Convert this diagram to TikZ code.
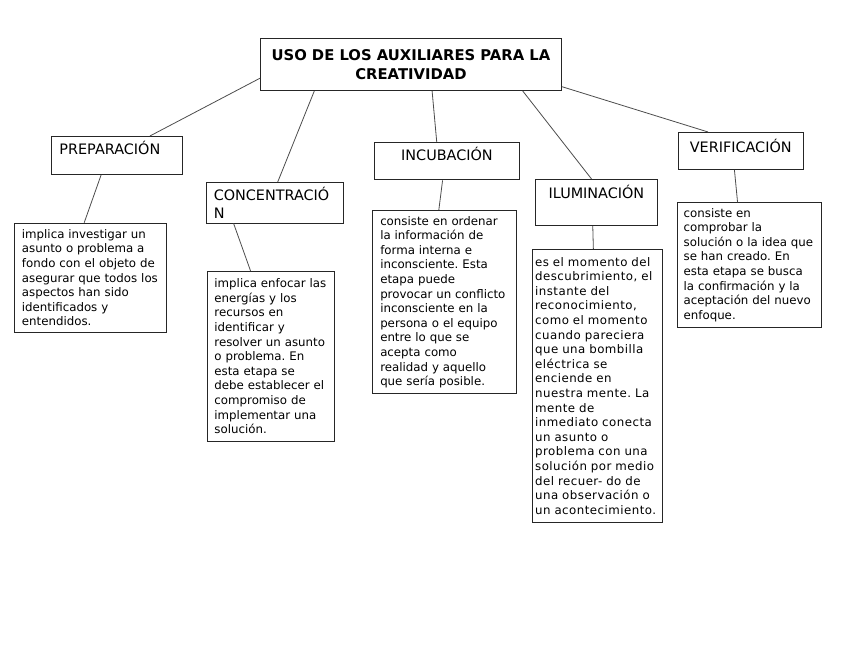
\documentclass[tikz,border=0pt]{standalone}
\usepackage{fontspec}
\setmainfont{DejaVu Sans}
\usetikzlibrary{calc}
\frenchspacing

\begin{document}
\begin{tikzpicture}[
  x=1pt,
  y=-1pt,
  mainbox/.style={
    draw=black!85,
    line width=0.9pt,
    anchor=north west,
    align=center,
    inner sep=0pt,
    minimum width=301pt,
    minimum height=52pt,
    font=\fontsize{14.8}{18.4}\selectfont\bfseries
  },
  stagebox/.style={
    draw=black!85,
    line width=0.9pt,
    anchor=north west,
    inner sep=0pt,
    font=\fontsize{14.4}{18.6}\selectfont
  },
  descbox/.style={
    draw=black!85,
    line width=0.9pt,
    anchor=north west,
    align=left,
    inner ysep=0pt,
    inner xsep=7.5pt,
    font=\fontsize{11.8}{14.6}\selectfont
  },
  link/.style={
    draw=black!70,
    line width=0.8pt
  }
]

\useasboundingbox (0,0) rectangle (848,655);

\node[mainbox] (uso) at (260,38)
  {USO DE LOS AUXILIARES PARA LA\\CREATIVIDAD};

% --- stages ---
\node[stagebox,align=left,text width=115pt,inner xsep=8pt,
  text height=18pt,text depth=20pt] (prep) at (51,136) {PREPARACIÓN};
\node[stagebox,align=left,text width=122.4pt,inner xsep=7.3pt,
  minimum height=40.5pt] (conc) at (206,182) {CONCENTRACIÓ\\N};
\node[stagebox,minimum width=145pt,text height=18pt,text depth=19.5pt]
  (incub) at (374,142) {INCUBACIÓN};
\node[stagebox,minimum width=122pt,text height=18.7pt,text depth=27.5pt]
  (ilum) at (535,179) {ILUMINACIÓN};
\node[stagebox,minimum width=124.5pt,text height=20pt,text depth=17pt]
  (verif) at (678,132) {VERIFICACIÓN};

% --- descriptions ---
\node[descbox,text width=136.7pt,minimum height=109pt] (prepdesc) at (14,222.7)
  {implica investigar un\\asunto o problema a\\fondo con el objeto de\\
   asegurar que todos los\\aspectos han sido\\identificados y\\entendidos.};
\node[descbox,inner xsep=7pt,text width=113.3pt,minimum height=169.7pt]
  (concdesc) at (207,271)
  {implica enfocar las\\energías y los\\recursos en\\identificar y\\
   resolver un asunto\\o problema. En\\esta etapa se\\debe establecer el\\
   compromiso de\\implementar una\\solución.};
\node[descbox,text width=128.7pt,minimum height=183.3pt] (incubdesc) at (372.3,210)
  {consiste en ordenar\\la información de\\forma interna e\\inconsciente. Esta\\
   etapa puede\\provocar un conflicto\\inconsciente en la\\persona o el equipo\\
   entre lo que se\\acepta como\\realidad y aquello\\que sería posible.};
\node[descbox,inner xsep=3pt,text width=124.3pt,minimum height=272.7pt,
  font=\fontsize{11.8}{14.6}\selectfont\addfontfeatures{LetterSpace=4}]
  (ilumdesc) at (531.7,249)
  {es el momento del\\descubrimiento, el\\instante del\\reconocimiento,\\
   como el momento\\cuando pareciera\\que una bombilla\\eléctrica se\\
   enciende en\\nuestra mente. La\\mente de\\inmediato conecta\\
   un asunto o\\problema con una\\solución por medio\\del recuer- do de\\
   una observación o\\un acontecimiento.};
\node[descbox,inner xsep=6.5pt,text width=131pt,minimum height=124.4pt]
  (verifdesc) at (676.7,202.3)
  {consiste en\\comprobar la\\solución o la idea que\\se han creado. En\\
   esta etapa se busca\\la confirmación y la\\aceptación del nuevo\\enfoque.};

% --- links from the title ---
\draw[link] ($(uso.north west)!0.76!(uso.south west)$) --
  ($(prep.north west)!0.75!(prep.north east)$);
\draw[link] ($(uso.south west)!0.18!(uso.south east)$) --
  ($(conc.north west)!0.52!(conc.north east)$);
\draw[link] ($(uso.south west)!0.57!(uso.south east)$) --
  ($(incub.north west)!0.43!(incub.north east)$);
\draw[link] ($(uso.south west)!0.87!(uso.south east)$) --
  ($(ilum.north west)!0.46!(ilum.north east)$);
\draw[link] ($(uso.north east)!0.92!(uso.south east)$) --
  ($(verif.north west)!0.24!(verif.north east)$);

% --- links to the descriptions ---
\draw[link] ($(prep.south west)!0.38!(prep.south east)$) --
  ($(prepdesc.north west)!0.46!(prepdesc.north east)$);
\draw[link] ($(conc.south west)!0.20!(conc.south east)$) --
  ($(concdesc.north west)!0.34!(concdesc.north east)$);
\draw[link] ($(incub.south west)!0.47!(incub.south east)$) --
  ($(incubdesc.north west)!0.46!(incubdesc.north east)$);
\draw[link] ($(ilum.south west)!0.47!(ilum.south east)$) --
  ($(ilumdesc.north west)!0.47!(ilumdesc.north east)$);
\draw[link] ($(verif.south west)!0.45!(verif.south east)$) --
  ($(verifdesc.north west)!0.42!(verifdesc.north east)$);

\end{tikzpicture}
\end{document}
